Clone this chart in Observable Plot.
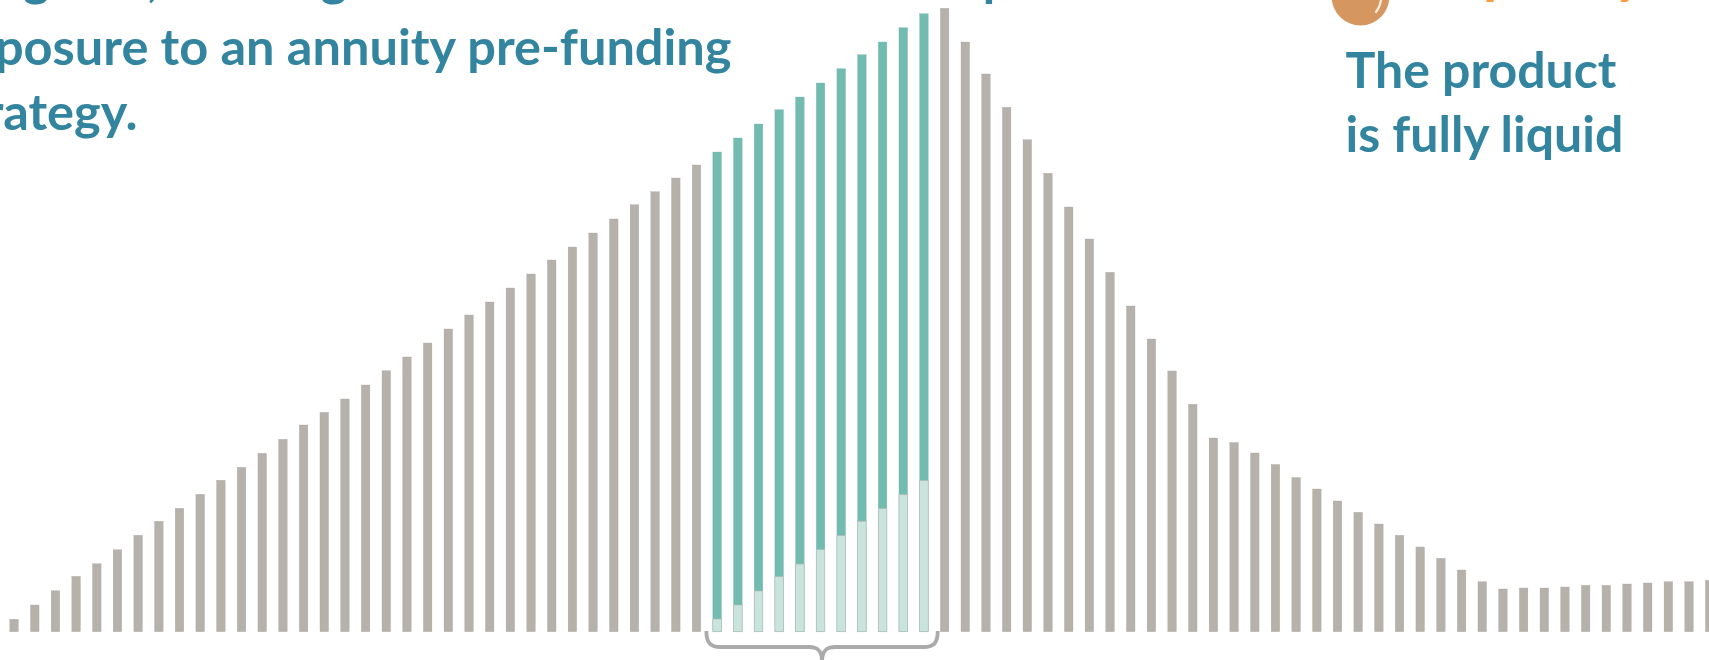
<!DOCTYPE html>
<html>
<head>
<meta charset="utf-8">
<script src="https://cdn.jsdelivr.net/npm/d3@7"></script>
<script src="https://cdn.jsdelivr.net/npm/@observablehq/plot@0.6"></script>
<style>
  html, body { margin: 0; padding: 0; background: #fff; overflow: hidden; }
  svg { display: block; overflow: hidden; }
</style>
</head>
<body>
<div id="chart"></div>
<script>
// Balance over the glide path, one bar per period (arbitrary units).
const balance = [
  12.4, 26.7, 41, 55.4, 68, 82, 96.4, 110.4, 123.4, 137.4,
  151.4, 164.4, 178.4, 192.4, 206.7, 219.4, 232.7, 246.7, 261, 274.7,
  288.7, 302.7, 316.7, 329.7, 343.7, 357.7, 371.7, 384.7, 398.7, 412.7,
  427, 440, 453.7, 466.7, 479.7, 493.7, 507.7, 522, 534.7, 548.7,
  563, 577, 589.7, 604, 618, 623.4, 589.7, 557.7, 524.4, 492,
  458.4, 424.7, 392.7, 359.4, 325.7, 292.7, 260.7, 227.4, 193.7, 189.2,
  178.7, 167.2, 154.2, 142.7, 130.7, 119.4, 107.7, 96.4, 84.7, 73.4,
  61.7, 50, 42.7, 43.7, 43.7, 44.7, 46.4, 46.4, 47.7, 48.7,
  50, 50, 51.4
];

// Periods in which the balance is partly moved into the annuity pre-funding strategy.
const preFundingStart = 34;
const preFundingAmount = [12.7, 26.7, 40.7, 55, 67.7, 82, 96, 110.4, 123, 137, 151];

const leadLines = [
  "At age 55, the target date fund starts to build up",
  "exposure to an annuity pre-funding",
  "strategy."
];
const liquidityHeading = ["Liquidity"];
const liquidityLines = ["The product", "is fully liquid"];

const periods = balance.map((_, i) => i);
const preFundingPeriods = preFundingAmount.map((_, i) => i + preFundingStart);
const isPreFunding = (i) => i >= preFundingStart && i < preFundingStart + preFundingAmount.length;

const GREY = "#b6b1aa", TEAL = "#72bbb0", PALE = "#c9e4dc", INK = "#33859f", ORANGE = "#f99b3e";
const textStyle = {
  frameAnchor: "top-left",
  lineAnchor: "bottom",
  fontFamily: "Lato",
  fontWeight: 700,
  fontSize: 50
};
const leadStyle = {...textStyle, fontSize: 50.5, textAnchor: "end", fill: INK, text: (d) => d};

// Curly brace spanning the pre-funding bars, placed through the x scale.
function brace(index, {x}) {
  const band = x.bandwidth();
  const left = x(preFundingStart) - 6.5;
  const right = x(preFundingStart + preFundingAmount.length - 1) + band + 9.5;
  const mid = (left + right) / 2;
  const top = 631, bar = 647, tip = 662;
  const path = d3.path();
  path.moveTo(left, top);
  path.bezierCurveTo(left, bar - 3, left + 5, bar, left + 14, bar);
  path.lineTo(mid - 13, bar);
  path.bezierCurveTo(mid - 5, bar, mid, bar + 3, mid, tip);
  path.bezierCurveTo(mid, bar + 3, mid + 5, bar, mid + 13, bar);
  path.lineTo(right - 14, bar);
  path.bezierCurveTo(right - 5, bar, right, bar - 3, right, top);
  return d3.create("svg:path")
    .attr("d", path.toString())
    .attr("fill", "none")
    .attr("stroke", "#aaaaaa")
    .attr("stroke-width", 3.8)
    .node();
}

// Small highlight on the coin icon.
function coinGlint() {
  return d3.create("svg:path")
    .attr("d", "M1381,0Q1380,7 1376,12")
    .attr("fill", "none")
    .attr("stroke", "#f8ebdd")
    .attr("stroke-width", 2.2)
    .attr("stroke-linecap", "round")
    .node();
}

const chart = Plot.plot({
  width: 1709,
  height: 660,
  margin: 0,
  style: {background: "#fff"},
  x: {type: "band", domain: periods, range: [-2.3, 1726.1], padding: 0.585, round: false, axis: null},
  y: {domain: [0, 623.4], range: [631.7, 8.3], axis: null},
  marks: [
    Plot.barY(periods.filter((i) => !isPreFunding(i)), {
      x: (i) => i, y: (i) => balance[i], fill: GREY, stroke: "#aaa59e", strokeWidth: 0.3
    }),
    Plot.barY(preFundingPeriods, {
      x: (i) => i, y: (i) => balance[i], fill: TEAL, stroke: "#72b3a9", strokeWidth: 0.3
    }),
    Plot.barY(preFundingPeriods, {
      x: (i) => i, y: (i) => preFundingAmount[i - preFundingStart], fill: PALE, stroke: "#b6bcb9", strokeWidth: 0.7
    }),
    brace,
    Plot.text([leadLines[0]], {...leadStyle, dx: 1011, dy: -5}),
    Plot.text([leadLines[1]], {...leadStyle, dx: 731, dy: 64}),
    Plot.text([leadLines[2]], {...leadStyle, dx: 137, dy: 129}),
    Plot.dot([0], {frameAnchor: "top-left", dx: 1360, dy: -3.8, r: 28.8, fill: "#d5965f"}),
    coinGlint,
    Plot.text(liquidityHeading, {...textStyle, fontSize: 58, text: (d) => d, fill: ORANGE, dx: 1419, dy: -9}),
    Plot.text([liquidityLines[0]], {...textStyle, text: (d) => d, fill: INK, dx: 1345, dy: 87}),
    Plot.text([liquidityLines[1]], {...textStyle, text: (d) => d, fill: INK, dx: 1345, dy: 151})
  ]
});

document.getElementById("chart").append(chart);
</script>
</body>
</html>
